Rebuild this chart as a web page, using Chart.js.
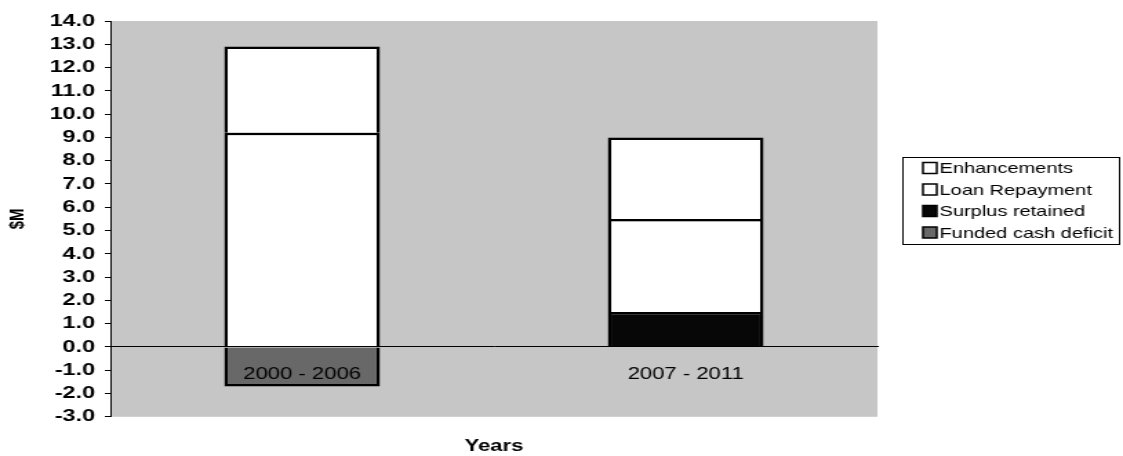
<!DOCTYPE html>
<html>
<head>
<meta charset="utf-8">
<title>Funding by period</title>
<script src="https://cdn.jsdelivr.net/npm/chart.js@4/dist/chart.umd.min.js"></script>
<style>
  html, body { margin: 0; padding: 0; background: #fff; overflow: hidden; }
  #wrap { width: 1123px; height: 456px; overflow: hidden; }
  /* the chart is laid out narrow and widened horizontally */
  #chart { display: block; transform-origin: 0 0; transform: scaleX(1.37961); }
</style>
</head>
<body>
<div id="wrap"><canvas id="chart" width="814" height="456"></canvas></div>
<script>
const categories = ['2000 - 2006', '2007 - 2011'];
const fundedCashDeficit = [-1.7, null];
const surplusRetained = [null, 1.5];
const loanRepayment = [9.2, 4.0];
const enhancements = [3.7, 3.5];
const yMin = -3, yMax = 14, yStep = 1;

const FONT = '"Liberation Sans", Arial, sans-serif';

// grey plot-area fill
const plotBackground = {
  id: 'plotBackground',
  beforeDraw(chart) {
    const { ctx, chartArea: a } = chart;
    ctx.save();
    ctx.fillStyle = '#c6c6c6';
    ctx.fillRect(a.left, a.top, a.right - a.left, a.bottom - a.top);
    ctx.restore();
  }
};

// boxed legend on the right, listing the series top of stack first
const boxedLegend = {
  id: 'boxedLegend',
  afterDraw(chart) {
    const { ctx } = chart;
    const box = { x: 654, y: 157, w: 158, h: 88 };
    ctx.save();
    ctx.fillStyle = '#fff';
    ctx.fillRect(box.x, box.y, box.w, box.h);
    ctx.strokeStyle = '#000';
    ctx.lineWidth = 1;
    ctx.strokeRect(box.x + 0.5, box.y + 0.5, box.w - 1, box.h - 1);
    const items = chart.data.datasets.slice().reverse();
    ctx.font = '14.5px ' + FONT;
    ctx.textBaseline = 'middle';
    ctx.textAlign = 'left';
    items.forEach((ds, i) => {
      const cy = 168 + i * 21.5;
      ctx.fillStyle = ds.backgroundColor;
      ctx.fillRect(669, cy - 5.5, 10, 11);
      ctx.strokeStyle = '#000';
      ctx.lineWidth = 1.5;
      ctx.strokeRect(669, cy - 5.5, 10, 11);
      ctx.fillStyle = '#000';
      ctx.fillText(ds.label, 681, cy + 1);
    });
    ctx.restore();
  }
};

const barStyle = {
  borderColor: '#000',
  borderWidth: 2.5,
  categoryPercentage: 1.0,
  barPercentage: 0.406,
  stack: 'funds'
};

new Chart(document.getElementById('chart'), {
  type: 'bar',
  data: {
    labels: categories,
    datasets: [
      { label: 'Funded cash deficit', data: fundedCashDeficit, backgroundColor: '#686868', ...barStyle },
      { label: 'Surplus retained', data: surplusRetained, backgroundColor: '#070707', ...barStyle },
      { label: 'Loan Repayment', data: loanRepayment, backgroundColor: '#ffffff', ...barStyle },
      { label: 'Enhancements', data: enhancements, backgroundColor: '#ffffff', ...barStyle }
    ]
  },
  options: {
    responsive: false,
    animation: false,
    layout: { padding: { top: 21, left: 4, right: 178, bottom: 0 } },
    plugins: {
      legend: { display: false },
      tooltip: { enabled: false },
      title: {
        display: true,
        text: 'Years',
        position: 'bottom',
        fullSize: false,
        color: '#000',
        font: { family: FONT, size: 16, weight: 'bold' },
        padding: { top: 20, bottom: 0 }
      }
    },
    scales: {
      x: {
        axis: 'x',
        type: 'category',
        stacked: true,
        position: { y: 0 },
        grid: { display: false, drawTicks: false },
        border: { display: true, color: '#000', width: 1, z: 1 },
        ticks: { z: 1, color: '#000', padding: 18, font: { family: FONT, size: 16 }, maxRotation: 0 }
      },
      y: {
        stacked: true,
        min: yMin,
        max: yMax,
        afterFit(scale) { scale.width = 76; },
        grid: { drawOnChartArea: false, drawTicks: true, tickLength: 4, color: '#000' },
        border: { display: true, color: '#000', width: 1 },
        ticks: {
          stepSize: yStep,
          autoSkip: false,
          color: '#000',
          padding: 7,
          font: { family: FONT, size: 17, weight: 'bold' },
          callback: v => Number(v).toFixed(1)
        },
        title: {
          display: true,
          text: '$M',
          color: '#000',
          font: { family: FONT, size: 15, weight: 'bold' },
          padding: { top: 0, bottom: 0 }
        }
      }
    }
  },
  plugins: [plotBackground, boxedLegend]
});
</script>
</body>
</html>
